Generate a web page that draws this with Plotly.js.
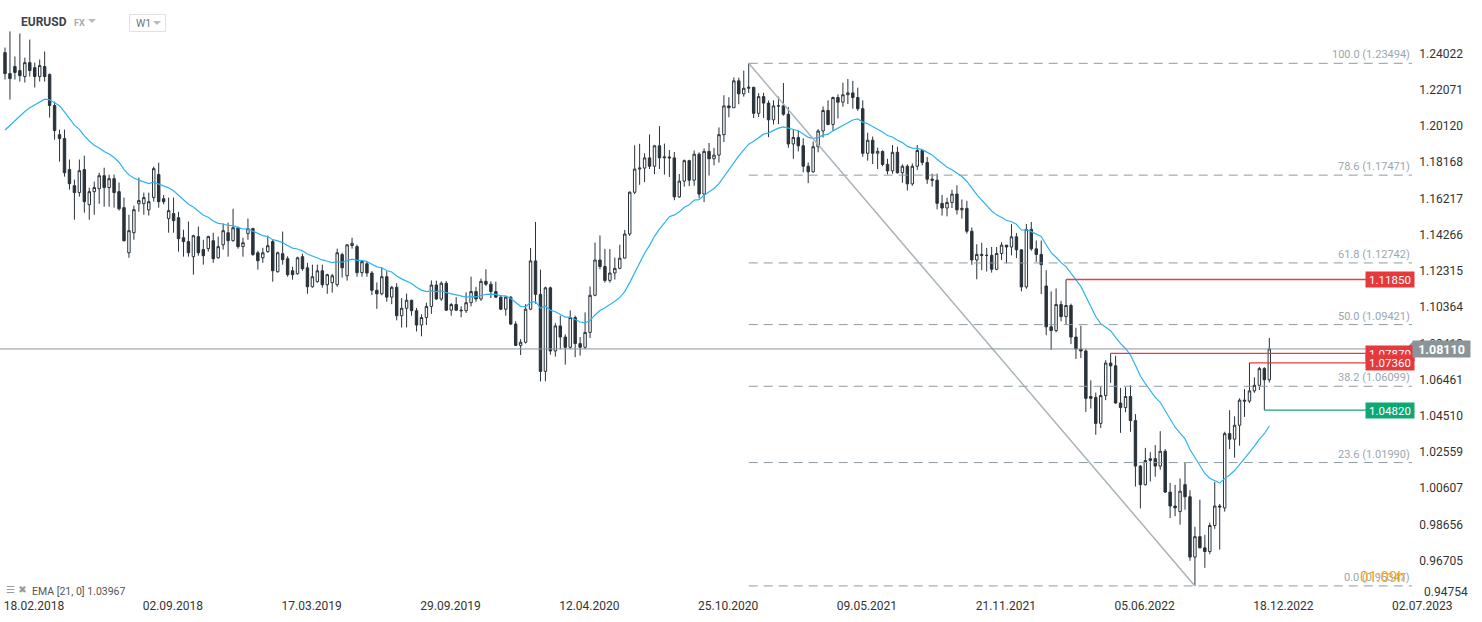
<!DOCTYPE html>
<html>
<head>
<meta charset="utf-8">
<script src="https://cdn.plot.ly/plotly-3.0.1.min.js"></script>
<style>html,body{margin:0;padding:0;background:#fff;}#chart{width:1482px;height:622px;}</style>
</head>
<body>
<div id="chart"></div>
<script>
// ===== DATA (weekly EURUSD candles) =====
const openP = [1.2407,1.2294,1.2332,1.2310,1.2278,1.2353,1.2326,1.2278,1.2332,1.2289,
1.2122,1.1965,1.1944,1.1777,1.1690,1.1653,1.1777,1.1588,1.1658,1.1674,
1.1744,1.1680,1.1728,1.1658,1.1572,1.1329,1.1437,1.1593,1.1593,1.1560,
1.1626,1.1750,1.1620,1.1513,1.1540,1.1518,1.1410,1.1389,1.1308,1.1416,
1.1346,1.1351,1.1394,1.1302,1.1372,1.1437,1.1394,1.1464,1.1362,1.1432,
1.1459,1.1329,1.1302,1.1335,1.1389,1.1227,1.1324,1.1297,1.1232,1.1216,
1.1308,1.1248,1.1146,1.1173,1.1232,1.1157,1.1168,1.1157,1.1319,1.1205,
1.1368,1.1362,1.1222,1.1270,1.1220,1.1127,1.1108,1.1200,1.1090,1.1143,
1.0990,1.1030,1.1073,1.1017,1.0940,1.0980,1.1040,1.1155,1.1080,1.1165,
1.1020,1.1050,1.1020,1.1017,1.1060,1.1120,1.1080,1.1175,1.1160,1.1120,
1.1090,1.1025,1.1090,1.0945,1.0830,1.0847,1.1025,1.1285,1.1105,1.0690,
1.1140,1.0800,1.0935,1.0875,1.0820,1.0980,1.0840,1.0820,1.0900,1.1100,
1.1290,1.1255,1.1180,1.1220,1.1245,1.1300,1.1430,1.1655,1.1780,1.1785,
1.1840,1.1795,1.1905,1.1840,1.1845,1.1840,1.1630,1.1715,1.1825,1.1720,
1.1860,1.1645,1.1875,1.1835,1.1855,1.1965,1.2120,1.2110,1.2255,1.2185,
1.2215,1.2220,1.2080,1.2170,1.2135,1.2045,1.2120,1.2120,1.2075,1.1915,
1.1950,1.1905,1.1795,1.1765,1.1900,1.1985,1.2095,1.2020,1.2165,1.2140,
1.2180,1.2190,1.2165,1.2105,1.1865,1.1935,1.1865,1.1875,1.1805,1.1770,
1.1870,1.1760,1.1795,1.1700,1.1795,1.1880,1.1815,1.1725,1.1720,1.1595,
1.1570,1.1600,1.1645,1.1560,1.1568,1.1445,1.1290,1.1320,1.1315,1.1315,
1.1240,1.1325,1.1370,1.1360,1.1415,1.1345,1.1145,1.1455,1.1350,1.1320,
1.1150,1.0930,1.0910,1.1050,1.0985,1.1045,1.0875,1.0810,1.0800,1.0555,
1.0550,1.0410,1.0560,1.0735,1.0720,1.0520,1.0495,1.0555,1.0425,1.0180,
1.0080,1.0210,1.0220,1.0180,1.0260,1.0040,0.9965,0.9935,1.0080,1.0015,
0.9690,0.9800,0.9740,0.9720,0.9860,0.9965,0.9955,1.0355,1.0325,1.0400,
1.0535,1.0530,1.0585,1.0615,1.0705,1.0645];
const highP = [1.2434,1.2521,1.2386,1.2510,1.2380,1.2477,1.2353,1.2370,1.2413,1.2295,
1.2143,1.1992,1.1992,1.1831,1.1723,1.1831,1.1852,1.1680,1.1712,1.1760,
1.1787,1.1750,1.1750,1.1707,1.1626,1.1534,1.1583,1.1734,1.1653,1.1653,
1.1793,1.1814,1.1640,1.1626,1.1626,1.1550,1.1453,1.1497,1.1426,1.1470,
1.1399,1.1421,1.1437,1.1416,1.1486,1.1491,1.1566,1.1470,1.1410,1.1513,
1.1464,1.1340,1.1356,1.1421,1.1400,1.1335,1.1443,1.1310,1.1254,1.1308,
1.1324,1.1275,1.1265,1.1265,1.1265,1.1216,1.1216,1.1351,1.1329,1.1372,
1.1410,1.1372,1.1286,1.1283,1.1230,1.1169,1.1250,1.1230,1.1150,1.1165,
1.1085,1.1109,1.1076,1.1032,1.0998,1.1060,1.1180,1.1179,1.1175,1.1176,
1.1058,1.1090,1.1040,1.1116,1.1200,1.1145,1.1190,1.1240,1.1175,1.1173,
1.1100,1.1095,1.1095,1.0960,1.0864,1.1052,1.1355,1.1495,1.1238,1.1147,
1.1147,1.0950,1.0990,1.0890,1.1019,1.0990,1.0875,1.1008,1.1147,1.1384,
1.1422,1.1350,1.1349,1.1303,1.1372,1.1452,1.1660,1.1908,1.1916,1.1865,
1.1966,1.1910,1.2011,1.1917,1.1882,1.1872,1.1753,1.1831,1.1830,1.1880,
1.1870,1.1891,1.1920,1.1894,1.2004,1.2177,1.2167,1.2273,1.2272,1.2310,
1.23494,1.2223,1.2189,1.2190,1.2149,1.2150,1.2170,1.2243,1.2113,1.1990,
1.1990,1.1945,1.1815,1.1928,1.1995,1.2117,1.2150,1.2170,1.2182,1.2245,
1.2265,1.2255,1.2218,1.2150,1.1975,1.1955,1.1895,1.1880,1.1835,1.1909,
1.1900,1.1805,1.1805,1.1810,1.1909,1.1885,1.1845,1.1755,1.1755,1.1640,
1.1625,1.1668,1.1692,1.1616,1.1609,1.1465,1.1375,1.1383,1.1355,1.1360,
1.1360,1.1386,1.1370,1.1483,1.1435,1.1345,1.1484,1.1495,1.1395,1.1395,
1.1235,1.1121,1.1137,1.1070,1.1185,1.1055,1.0925,1.0936,1.0810,1.0642,
1.0576,1.0607,1.0750,1.0787,1.0774,1.0601,1.0605,1.0615,1.0460,1.0185,
1.0278,1.0255,1.0293,1.0368,1.0272,1.0090,1.0079,1.0113,1.0198,1.0050,
0.9853,0.9999,0.9810,0.9875,1.0094,0.9976,1.0365,1.0481,1.0448,1.0545,
1.0595,1.0736,1.0658,1.0714,1.0713,1.0870];
const lowP = [1.2262,1.2154,1.2262,1.2251,1.2246,1.2278,1.2219,1.2251,1.2251,1.2057,
1.1938,1.1820,1.1739,1.1669,1.1507,1.1631,1.1545,1.1507,1.1534,1.1593,
1.1577,1.1577,1.1572,1.1556,1.1389,1.1302,1.1399,1.1550,1.1534,1.1529,
1.1604,1.1572,1.1590,1.1437,1.1437,1.1335,1.1308,1.1308,1.1211,1.1313,
1.1265,1.1335,1.1275,1.1297,1.1346,1.1308,1.1389,1.1351,1.1308,1.1399,
1.1313,1.1238,1.1275,1.1329,1.1173,1.1222,1.1265,1.1200,1.1184,1.1211,
1.1232,1.1108,1.1141,1.1168,1.1141,1.1108,1.1114,1.1146,1.1195,1.1179,
1.1351,1.1200,1.1200,1.1200,1.1101,1.1027,1.1100,1.1065,1.1052,1.0965,
1.0926,1.0927,1.0990,1.0905,1.0879,1.0940,1.1000,1.1075,1.1070,1.1015,
1.0990,1.1015,1.0981,1.1005,1.1040,1.1065,1.1070,1.1150,1.1085,1.1085,
1.1020,1.0990,1.0940,1.0827,1.0778,1.0840,1.1020,1.1055,1.0636,1.0637,
1.0780,1.0770,1.0810,1.0727,1.0810,1.0767,1.0775,1.0810,1.0870,1.1095,
1.1240,1.1168,1.1168,1.1185,1.1240,1.1300,1.1420,1.1645,1.1695,1.1710,
1.1780,1.1752,1.1780,1.1750,1.1737,1.1612,1.1625,1.1685,1.1688,1.1690,
1.1622,1.1602,1.1745,1.1800,1.1815,1.1925,1.2059,1.2110,1.2129,1.2170,
1.2190,1.2054,1.2060,1.2055,1.1952,1.2020,1.2022,1.2067,1.1894,1.1835,
1.1875,1.1762,1.1704,1.1760,1.1870,1.1950,1.2015,1.1985,1.2052,1.2115,
1.2130,1.2105,1.2093,1.1846,1.1825,1.1807,1.1780,1.1795,1.1751,1.1755,
1.1755,1.1706,1.1664,1.1690,1.1775,1.1800,1.1700,1.1685,1.1563,1.1529,
1.1525,1.1570,1.1535,1.1513,1.1432,1.1264,1.1186,1.1235,1.1228,1.1222,
1.1235,1.1290,1.1272,1.1315,1.1300,1.1121,1.1135,1.1340,1.1280,1.1106,
1.0885,1.0806,1.0900,1.0960,1.0945,1.0837,1.0757,1.0762,1.0472,1.0490,
1.0349,1.0385,1.0535,1.0628,1.0515,1.0359,1.0470,1.0365,1.0070,0.9952,
1.0075,1.0097,1.0123,1.0160,1.0035,0.9900,0.9910,0.9864,0.9945,0.9670,
0.95347,0.9737,0.9632,0.9705,0.9842,0.9730,0.9935,1.0272,1.0225,1.0290,
1.0445,1.0520,1.0575,1.0590,1.0482,1.0630];
const closeP = [1.2294,1.2267,1.2300,1.2283,1.2353,1.2310,1.2278,1.2337,1.2278,1.2122,
1.1987,1.1944,1.1760,1.1701,1.1653,1.1771,1.1604,1.1658,1.1680,1.1744,
1.1680,1.1728,1.1653,1.1566,1.1394,1.1448,1.1561,1.1610,1.1626,1.1604,
1.1782,1.1604,1.1604,1.1556,1.1502,1.1405,1.1389,1.1329,1.1421,1.1329,
1.1313,1.1416,1.1297,1.1362,1.1448,1.1394,1.1464,1.1362,1.1383,1.1459,
1.1319,1.1286,1.1329,1.1367,1.1232,1.1329,1.1292,1.1211,1.1211,1.1302,
1.1243,1.1146,1.1200,1.1232,1.1157,1.1211,1.1205,1.1329,1.1248,1.1372,
1.1380,1.1222,1.1281,1.1220,1.1127,1.1108,1.1200,1.1090,1.1143,1.0990,
1.1030,1.1073,1.1017,1.0940,1.0980,1.1040,1.1155,1.1080,1.1165,1.1020,
1.1050,1.1020,1.1017,1.1060,1.1120,1.1080,1.1175,1.1160,1.1120,1.1090,
1.1025,1.1090,1.0945,1.0830,1.0847,1.1025,1.1285,1.1105,1.0690,1.1140,
1.0800,1.0935,1.0875,1.0820,1.0980,1.0840,1.0820,1.0900,1.1100,1.1290,
1.1255,1.1180,1.1220,1.1245,1.1300,1.1430,1.1655,1.1780,1.1785,1.1840,
1.1795,1.1905,1.1840,1.1845,1.1840,1.1630,1.1715,1.1825,1.1720,1.1860,
1.1645,1.1875,1.1835,1.1855,1.1965,1.2120,1.2110,1.2255,1.2185,1.2215,
1.2220,1.2080,1.2170,1.2135,1.2045,1.2120,1.2120,1.2075,1.1915,1.1950,
1.1905,1.1795,1.1765,1.1900,1.1985,1.2095,1.2020,1.2165,1.2140,1.2180,
1.2190,1.2165,1.2105,1.1865,1.1935,1.1865,1.1875,1.1805,1.1770,1.1870,
1.1760,1.1795,1.1700,1.1795,1.1880,1.1815,1.1725,1.1720,1.1595,1.1570,
1.1600,1.1645,1.1560,1.1568,1.1445,1.1290,1.1320,1.1315,1.1315,1.1240,
1.1325,1.1370,1.1360,1.1415,1.1345,1.1145,1.1455,1.1350,1.1320,1.1265,
1.0930,1.0910,1.1050,1.0985,1.1045,1.0875,1.0810,1.0800,1.0545,1.0545,
1.0410,1.0560,1.0735,1.0720,1.0520,1.0495,1.0555,1.0425,1.0180,1.0080,
1.0210,1.0220,1.0180,1.0260,1.0040,0.9965,0.9955,1.0045,1.0015,0.9690,
0.9800,0.9740,0.9720,0.9860,0.9965,0.9960,1.0355,1.0325,1.0400,1.0535,
1.0530,1.0585,1.0615,1.0705,1.0645,1.0811];

const emaPeriod = 21;
const emaSeed = 1.1990;            // EMA value at the first visible candle
const xTickLabels = ["18.02.2018","02.09.2018","17.03.2019","29.09.2019","12.04.2020","25.10.2020","09.05.2021","21.11.2021","05.06.2022","18.12.2022","02.07.2023"];
const yTickVals = [1.24022,1.22071,1.20120,1.18168,1.16217,1.14266,1.12315,1.10364,1.08413,1.06461,1.04510,1.02559,1.00607,0.98656,0.96705];
const yBottomLabel = 0.94754;
const fibRatios = [100.0, 78.6, 61.8, 50.0, 38.2, 23.6, 0.0];
const fibLevels = [1.23494, 1.17471, 1.12742, 1.09421, 1.06099, 1.01990, 0.95347];
const fibHighIdx = 150, fibLowIdx = 240;
const currentPrice = 1.08110;
const redLevels = [1.11850, 1.07870, 1.07360];
const redLevelIdx = [214, 223, 251];
const greenLevels = [1.04820];
const greenLevelIdx = [254];
const emaLabel = "EMA [21, 0] 1.03967";
const timerText = "01:09h";

// ===== derived =====
const xIdx = closeP.map((_, i) => i);
const ema = [];
const alpha = 2 / (emaPeriod + 1);
closeP.forEach((c, i) => { ema.push(i === 0 ? emaSeed : ema[i-1] + alpha * (c - ema[i-1])); });

// layout geometry
const W = 1482, H = 622, PH = 597;
const xr = [-1.008, 297.9];
const yr = [0.9475, 1.26903];
const pxX = p => p / W;                         // paper x from pixel
const pxY = p => 1 - p / PH;                    // paper y from pixel
const idxAt = p => xr[0] + p / W * (xr[1] - xr[0]);
const fibEnd = idxAt(1412);
const boxLeft = idxAt(1366);
const font = 'Roboto, sans-serif';
const RED = '#ee3b3b', GREEN = '#0fa873', PRICE = '#8a9499';

const shapes = [];
const annotations = [];

// Fibonacci levels
fibRatios.forEach((r, k) => {
  const lv = fibLevels[k];
  shapes.push({type:'line', xref:'x', yref:'y', x0:fibHighIdx, x1:fibEnd, y0:lv, y1:lv,
    line:{color:'#8d9ba3', width:1, dash:'9px,6px'}});
  annotations.push({xref:'x', yref:'y', x:fibEnd, y:lv, xanchor:'right', yanchor:'bottom', yshift:0,
    text: r.toFixed(1) + ' (' + lv.toFixed(5) + ')', showarrow:false,
    font:{family:font, size:11, color:'#9aa7ae'}});
});
// Fib trend line
shapes.push({type:'line', xref:'x', yref:'y', x0:fibHighIdx, y0:fibLevels[0], x1:fibLowIdx, y1:fibLevels[fibLevels.length-1],
  line:{color:'#a9b2b8', width:1.5}});

// current price line
shapes.push({type:'line', xref:'x', yref:'y', x0:xr[0], x1:idxAt(1405), y0:currentPrice, y1:currentPrice,
  line:{color:PRICE, width:1}});

// level lines
redLevels.forEach((lv, k) => {
  shapes.push({type:'line', xref:'x', yref:'y', x0:redLevelIdx[k], x1:boxLeft, y0:lv, y1:lv,
    line:{color:RED, width:1.3}});
});
greenLevels.forEach((lv, k) => {
  shapes.push({type:'line', xref:'x', yref:'y', x0:greenLevelIdx[k], x1:boxLeft, y0:lv, y1:lv,
    line:{color:GREEN, width:1.3}});
});

// level boxes
redLevels.forEach(lv => {
  annotations.push({xref:'paper', yref:'y', x:pxX(1390), y:lv, xanchor:'center', yanchor:'middle',
    text: lv.toFixed(5), showarrow:false, bgcolor:'#e5393c', width:48, height:15, borderpad:0,
    font:{family:font, size:11.5, color:'#ffffff'}});
});
greenLevels.forEach(lv => {
  annotations.push({xref:'paper', yref:'y', x:pxX(1390), y:lv, xanchor:'center', yanchor:'middle',
    text: lv.toFixed(5), showarrow:false, bgcolor:GREEN, width:48, height:15, borderpad:0,
    font:{family:font, size:11.5, color:'#ffffff'}});
});

// current price box + notch
annotations.push({xref:'paper', yref:'y', x:pxX(1441.5), y:currentPrice, xanchor:'center', yanchor:'middle',
  text:'<b>' + currentPrice.toFixed(5) + '</b>', showarrow:false, bgcolor:PRICE, width:57, height:16, borderpad:0,
  font:{family:font, size:12.5, color:'#ffffff'}});

// bottom y label (pushed up as in the original)
annotations.push({xref:'paper', yref:'paper', x:pxX(1422), y:pxY(592), xanchor:'left', yanchor:'middle',
  text: yBottomLabel.toFixed(5), showarrow:false, font:{family:font, size:12, color:'#333333'}});

// countdown
annotations.push({xref:'paper', yref:'paper', x:pxX(1408), y:pxY(577), xanchor:'right', yanchor:'middle',
  text:timerText, showarrow:false, font:{family:font, size:15, color:'#f7a21b'}});

// header
annotations.push({xref:'paper', yref:'paper', x:pxX(19), y:pxY(22), xanchor:'left', yanchor:'middle',
  text:'<b>EURUSD</b>', showarrow:false, font:{family:font, size:12, color:'#3b444b'}});
annotations.push({xref:'paper', yref:'paper', x:pxX(72), y:pxY(23), xanchor:'left', yanchor:'middle',
  text:'<b>FX</b>', showarrow:false, font:{family:font, size:9, color:'#a3adb2'}});
annotations.push({xref:'paper', yref:'paper', x:pxX(134), y:pxY(23), xanchor:'left', yanchor:'middle',
  text:'W1', showarrow:false, font:{family:font, size:10.5, color:'#6b767c'}});
// bottom-left EMA legend
annotations.push({xref:'paper', yref:'paper', x:pxX(4), y:pxY(589), xanchor:'left', yanchor:'middle',
  text:'☰ ✖', showarrow:false, font:{family:'DejaVu Sans, sans-serif', size:10, color:'#9a9a9a'}});
annotations.push({xref:'paper', yref:'paper', x:pxX(30), y:pxY(591), xanchor:'left', yanchor:'middle',
  text: emaLabel, showarrow:false, font:{family:font, size:10.5, color:'#555555'}});

// header shapes: triangles and W1 box
const tri = (x, y, w, h) => `M ${pxX(x)} ${pxY(y)} L ${pxX(x + w)} ${pxY(y)} L ${pxX(x + w/2)} ${pxY(y + h)} Z`;
shapes.push({type:'path', xref:'paper', yref:'paper', path:tri(88, 19, 8, 4), fillcolor:'#b3bcc1', line:{width:0}});
shapes.push({type:'path', xref:'paper', yref:'paper', path:tri(153, 21, 8, 4), fillcolor:'#b3bcc1', line:{width:0}});
shapes.push({type:'rect', xref:'paper', yref:'paper', x0:pxX(129.5), x1:pxX(165.5), y0:pxY(14.5), y1:pxY(31.5),
  line:{color:'#dde2e5', width:1}, fillcolor:'rgba(0,0,0,0)'});
// price box notch
const cpPix = (yr[1] - currentPrice) / (yr[1] - yr[0]) * PH;
shapes.push({type:'path', xref:'paper', yref:'paper', layer:'above',
  path:`M ${pxX(1405)} ${pxY(cpPix)} L ${pxX(1413.5)} ${pxY(cpPix - 8)} L ${pxX(1413.5)} ${pxY(cpPix + 8)} Z`,
  fillcolor:PRICE, line:{width:0}});

const tickStart = 5.85, tickStep = 28;
const traces = [
  {type:'scatter', mode:'lines', x:xIdx, y:ema, line:{color:'#2db3f0', width:1.2}, hoverinfo:'skip', showlegend:false},
  {type:'candlestick', x:xIdx, open:openP, high:highP, low:lowP, close:closeP,
    increasing:{line:{color:'#29323a', width:1}, fillcolor:'#ffffff'},
    decreasing:{line:{color:'#29323a', width:1}, fillcolor:'#29323a'},
    whiskerwidth:0, hoverinfo:'skip', showlegend:false}
];

const layout = {
  width:W, height:H,
  margin:{l:0, r:0, t:0, b:H - PH, pad:0},
  paper_bgcolor:'#ffffff', plot_bgcolor:'#ffffff',
  showlegend:false,
  xaxis:{range:xr, showgrid:false, zeroline:false, showline:false, ticks:'',
    tickvals: xTickLabels.map((_, k) => tickStart + k * tickStep), ticktext: xTickLabels,
    ticklabeloverflow:'allow',
    tickfont:{family:font, size:12, color:'#333333'}, rangeslider:{visible:false}, fixedrange:true},
  yaxis:{range:yr, side:'right', showgrid:false, zeroline:false, showline:false, ticks:'',
    tickvals:yTickVals, ticktext:yTickVals.map(v => v.toFixed(5)),
    ticklabelposition:'inside', ticklabelstandoff:16, ticklabeloverflow:'allow',
    tickfont:{family:font, size:12, color:'#333333'}, fixedrange:true},
  shapes: shapes,
  annotations: annotations
};

Plotly.newPlot('chart', traces, layout, {staticPlot:true, displayModeBar:false}).then(gd => {
  // make sure the last date label is drawn (Plotly may hide it next to inside y labels)
  const shown = Array.from(gd.querySelectorAll('.xtick text')).map(t => t.textContent);
  if (shown.indexOf(xTickLabels[xTickLabels.length - 1]) < 0) {
    Plotly.relayout(gd, {annotations: annotations.concat([{xref:'x', yref:'paper',
      x: tickStart + (xTickLabels.length - 1) * tickStep, y: 0, yshift: -3, xanchor:'center', yanchor:'top',
      text: xTickLabels[xTickLabels.length - 1], showarrow:false,
      font:{family:font, size:12, color:'#333333'}}])});
  }
});
</script>
</body>
</html>
